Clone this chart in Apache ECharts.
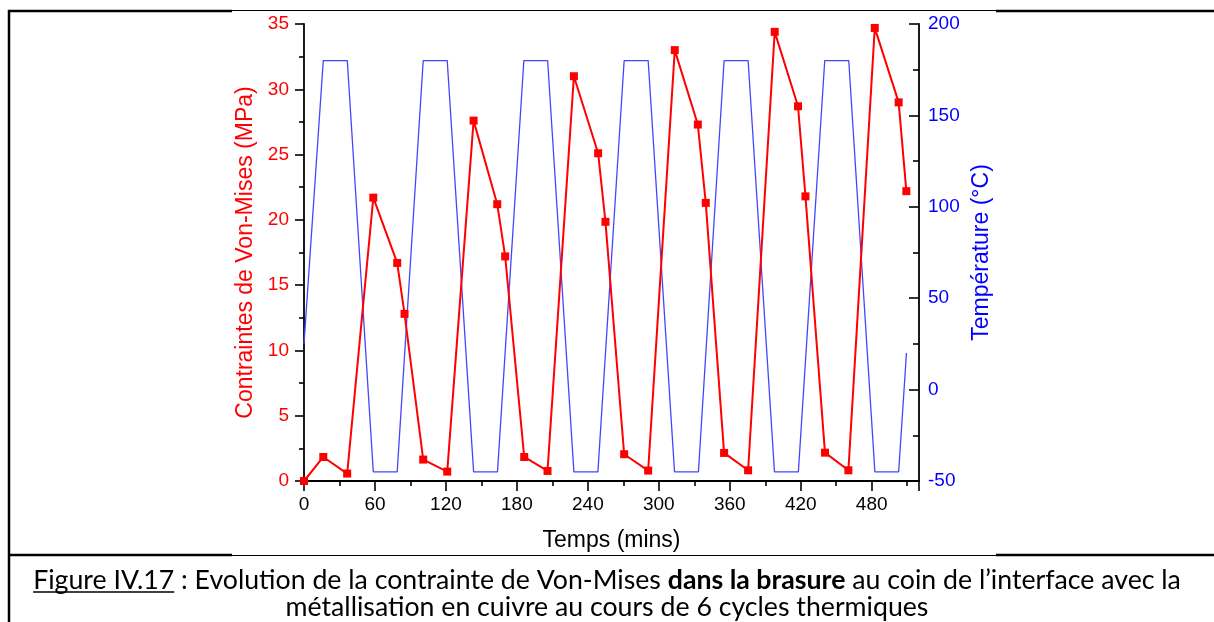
<!DOCTYPE html>
<html>
<head>
<meta charset="utf-8">
<script src="https://cdn.jsdelivr.net/npm/echarts@6/dist/echarts.min.js"></script>
<style>
  html, body { margin: 0; padding: 0; background: #ffffff; }
  #chart { width: 1214px; height: 622px; }
</style>
</head>
<body>
<div id="chart"></div>
<script>
// Von-Mises stress in the solder at the interface corner (MPa)
const stressTime = [0, 16.3, 36.5, 58.6, 78.8, 85.0, 100.8, 121.1, 143.4, 163.4, 170.1, 186.2, 205.9,
                    228.2, 248.7, 254.9, 270.7, 291.0, 313.5, 333.0, 339.7, 355.2, 375.5,
                    398.0, 417.7, 424.0, 440.5, 460.3, 482.6, 502.8, 509.3];
const stressMPa  = [0, 1.84, 0.57, 21.7, 16.7, 12.8, 1.64, 0.72, 27.6, 21.2, 17.2, 1.84, 0.77,
                    31.0, 25.1, 19.85, 2.05, 0.80, 33.0, 27.3, 21.3, 2.15, 0.82,
                    34.4, 28.7, 21.8, 2.17, 0.82, 34.7, 29.0, 22.2];

// Thermal cycling profile (°C), vertices of the ramps and dwells
const tempTime = [0, 16.3, 36.6, 58.6, 78.8, 100.8, 121.1, 143.4, 163.6, 185.9, 206.0,
                  228.2, 248.5, 270.7, 291.0, 313.3, 333.5, 355.2, 375.5, 397.8, 418.0,
                  440.3, 460.6, 482.7, 502.8, 509.4];
const tempC    = [25, 180, 180, -45, -45, 180, 180, -45, -45, 180, 180,
                  -45, -45, 180, 180, -45, -45, 180, 180, -45, -45,
                  180, 180, -45, -45, 20];

// Axis ranges and steps
const timeRange   = [0, 520, 60];
const stressRange = [0, 35, 5];
const tempRange   = [-50, 200, 50];

// Texts
const xTitle = 'Temps (mins)';
const stressTitle = 'Contraintes de Von-Mises (MPa)';
const tempTitle = 'Température (°C)';
const capLabel = 'Figure IV.17';
const capPart1 = ' : Evolution de la contrainte de Von-Mises ';
const capBold = 'dans la brasure';
const capPart2 = ' au coin de l’interface avec la';
const capLine2 = 'métallisation en cuivre au cours de 6 cycles thermiques';

const RED = '#ff0000';
const BLUE = '#0000ff';
const AXIS_FONT = '"Liberation Sans", Arial, sans-serif';
const CAP_FONT = 'Lato, "Liberation Sans", sans-serif';
const TICK_SIZE = 19;
const TITLE_SIZE = 23;

const stressData = stressTime.map((t, i) => [t, stressMPa[i]]);
const tempData = tempTime.map((t, i) => [t, tempC[i]]);

// Caption: size the first line to span the cell, then place the underline
const ctx = document.createElement('canvas').getContext('2d');
function capWidths(size) {
  ctx.font = size + 'px ' + CAP_FONT;
  const wLabel = ctx.measureText(capLabel).width;
  const wP1 = ctx.measureText(capPart1).width;
  const wP2 = ctx.measureText(capPart2).width;
  ctx.font = 'bold ' + size + 'px ' + CAP_FONT;
  const wBold = ctx.measureText(capBold).width;
  return { wLabel, total: wLabel + wP1 + wBold + wP2 };
}
const CAP_SIZE = Math.round(23 * 1150 / capWidths(23).total * 10) / 10;
const capM = capWidths(CAP_SIZE);
const capCx = 607, capY1 = 580, capY2 = 607;
const capStart = capCx - capM.total / 2;

const chart = echarts.init(document.getElementById('chart'), null, { renderer: 'canvas' });

const frame = { stroke: '#000000', lineWidth: 2.5 };
const thin = { stroke: '#000000', lineWidth: 1 };
const tickStyle = { color: '#000', width: 1.6 };

chart.setOption({
  animation: false,
  backgroundColor: '#ffffff',
  grid: { left: 304, top: 24, width: 615, height: 457 },
  xAxis: {
    type: 'value',
    min: timeRange[0], max: timeRange[1], interval: timeRange[2],
    name: xTitle, nameLocation: 'middle', nameGap: 48,
    nameTextStyle: { color: '#000', fontSize: TITLE_SIZE, fontFamily: AXIS_FONT },
    axisLine: { show: true, onZero: false, lineStyle: { color: '#000', width: 1.8 } },
    axisTick: { show: true, length: 10, lineStyle: tickStyle },
    minorTick: { show: true, splitNumber: 2, length: 5, lineStyle: tickStyle },
    axisLabel: { color: '#000', fontSize: TICK_SIZE, fontFamily: AXIS_FONT, margin: 14,
                 showMaxLabel: false },
    splitLine: { show: false }
  },
  yAxis: [
    {
      type: 'value', position: 'left',
      min: stressRange[0], max: stressRange[1], interval: stressRange[2],
      name: stressTitle, nameLocation: 'middle', nameGap: 46,
      nameTextStyle: { color: RED, fontSize: TITLE_SIZE, fontFamily: AXIS_FONT },
      axisLine: { show: true, onZero: false, lineStyle: { color: '#000', width: 1.8 } },
      axisTick: { show: true, length: 9, lineStyle: tickStyle },
      minorTick: { show: true, splitNumber: 2, length: 5, lineStyle: tickStyle },
      axisLabel: { color: RED, fontSize: TICK_SIZE, fontFamily: AXIS_FONT, margin: 15 },
      splitLine: { show: false }
    },
    {
      type: 'value', position: 'right',
      min: tempRange[0], max: tempRange[1], interval: tempRange[2],
      name: tempTitle, nameLocation: 'middle', nameGap: 51,
      nameTextStyle: { color: BLUE, fontSize: TITLE_SIZE, fontFamily: AXIS_FONT },
      axisLine: { show: true, onZero: false, lineStyle: { color: '#000', width: 1.8 } },
      axisTick: { show: true, inside: true, length: 10, lineStyle: tickStyle },
      minorTick: { show: true, splitNumber: 2, length: 6, lineStyle: tickStyle },
      axisLabel: { color: BLUE, fontSize: TICK_SIZE, fontFamily: AXIS_FONT, margin: 9 },
      splitLine: { show: false }
    }
  ],
  series: [
    {
      name: tempTitle, type: 'line', yAxisIndex: 1, data: tempData,
      showSymbol: false, symbol: 'none',
      lineStyle: { color: '#4545ff', width: 1.3 }, z: 2
    },
    {
      name: stressTitle, type: 'line', yAxisIndex: 0, data: stressData,
      symbol: 'rect', symbolSize: 8, showAllSymbol: true,
      itemStyle: { color: RED },
      lineStyle: { color: RED, width: 2 }, z: 3
    }
  ],
  graphic: [
    // table borders around the figure and its caption
    { type: 'line', shape: { x1: 9, y1: 10, x2: 9, y2: 622 }, style: frame, z: 10, silent: true },
    { type: 'line', shape: { x1: 8, y1: 11, x2: 232, y2: 11 }, style: frame, z: 10, silent: true },
    { type: 'line', shape: { x1: 232, y1: 10.5, x2: 996, y2: 10.5 }, style: thin, z: 10, silent: true },
    { type: 'line', shape: { x1: 996, y1: 11, x2: 1214, y2: 11 }, style: frame, z: 10, silent: true },
    { type: 'line', shape: { x1: 8, y1: 555, x2: 232, y2: 555 }, style: frame, z: 10, silent: true },
    { type: 'line', shape: { x1: 232, y1: 555.5, x2: 996, y2: 555.5 }, style: thin, z: 10, silent: true },
    { type: 'line', shape: { x1: 996, y1: 555, x2: 1214, y2: 555 }, style: frame, z: 10, silent: true },
    // caption
    {
      type: 'text', x: capCx, y: capY1, z: 10, silent: true,
      style: {
        text: '{n|' + capLabel + capPart1 + '}{b|' + capBold + '}{n|' + capPart2 + '}',
        align: 'center', verticalAlign: 'middle',
        rich: {
          n: { fontSize: CAP_SIZE, fontFamily: CAP_FONT, fill: '#000' },
          b: { fontSize: CAP_SIZE, fontFamily: CAP_FONT, fontWeight: 'bold', fill: '#000' }
        }
      }
    },
    { type: 'line', shape: { x1: capStart, y1: capY1 + 12, x2: capStart + capM.wLabel, y2: capY1 + 12 },
      style: { stroke: '#000', lineWidth: 1.3 }, z: 10, silent: true },
    {
      type: 'text', x: capCx, y: capY2, z: 10, silent: true,
      style: { text: capLine2, align: 'center', verticalAlign: 'middle',
               fontSize: CAP_SIZE, fontFamily: CAP_FONT, fill: '#000' }
    }
  ]
});
</script>
</body>
</html>
